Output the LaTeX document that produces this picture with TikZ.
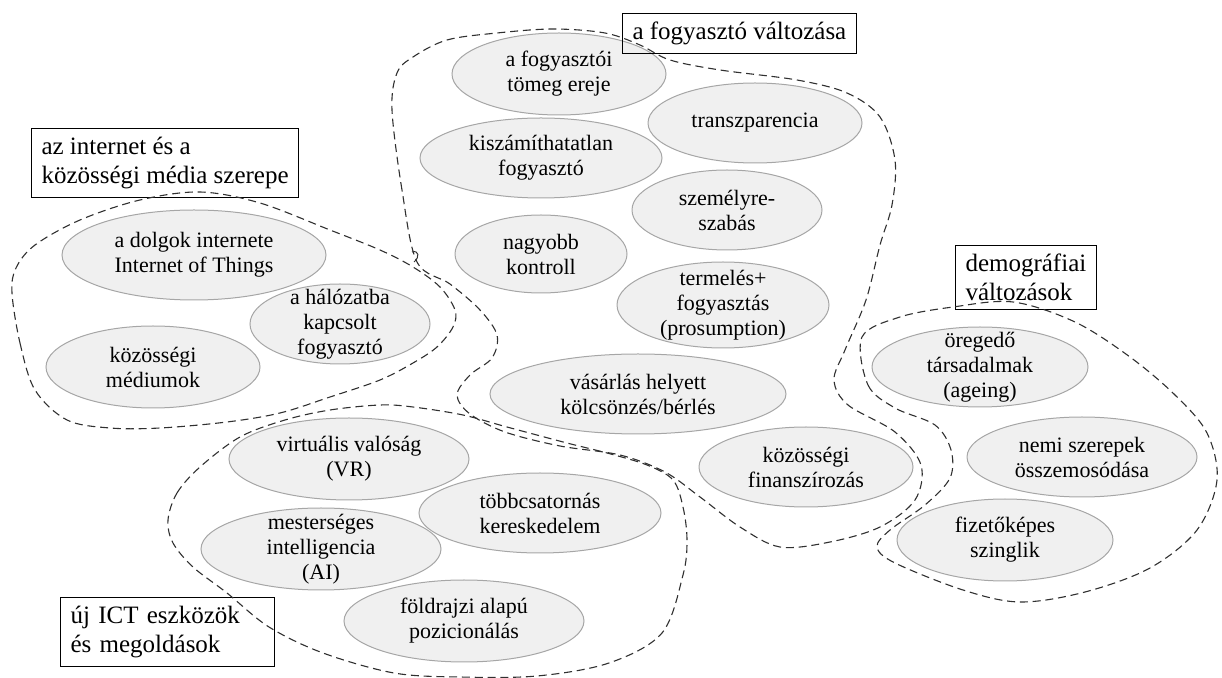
\documentclass[tikz,border=0pt]{standalone}
\usepackage{fontspec}
\setmainfont{Liberation Serif}
\definecolor{bubblefill}{HTML}{F0F0F0}
\definecolor{bubbleline}{HTML}{A6A6A6}
\definecolor{blobline}{HTML}{303030}
\begin{document}
\begin{tikzpicture}[x=0.5pt,y=-0.5pt,
  bubbletext/.style={align=center,font=\fontsize{11}{12.5}\selectfont,inner sep=0pt},
  titlebox/.style={draw=black,line width=0.5pt,align=left,inner xsep=5pt,inner ysep=4.3pt,
    font=\fontsize{12.5}{14.4}\selectfont},
  blob/.style={draw=blobline,line width=0.55pt,dash pattern=on 4pt off 2.4pt},
]
\useasboundingbox (0,0) rectangle (1222,678);
\newcommand\bubble[6]{%
  \path[fill=bubblefill,draw=bubbleline,line width=0.5pt]
    (#2,#3) ellipse [x radius={#4*0.5pt},y radius={#5*0.5pt}];
  \node[bubbletext] (#1) at (#2,#3) {#6};}

% group: a fogyasztó változása
\bubble{tomeg}{559}{74}{107}{41}{a fogyasztói\\tömeg ereje}
\bubble{transz}{755}{123}{107}{40}{transzparencia}
\bubble{kiszam}{541}{158}{121}{40}{kiszámíthatatlan\\fogyasztó}
\bubble{szemely}{727}{210}{95}{40}{személyre-\\szabás}
\bubble{kontroll}{541}{254}{86}{39}{nagyobb\\kontroll}
\bubble{prosum}{723}{305}{106}{43}{termelés+\\fogyasztás\\(prosumption)}
\bubble{berles}{638}{394}{148}{40}{vásárlás helyett\\kölcsönzés/bérlés}
\bubble{kozfin}{806}{467}{107}{40}{közösségi\\finanszírozás}

% group: internet és közösségi média
\bubble{iot}{194}{255}{132}{45}{a dolgok internete\\Internet of Things}
\bubble{halozat}{340}{324}{90}{40}{a hálózatba\\kapcsolt\\fogyasztó}
\bubble{mediumok}{153}{367}{107}{41}{közösségi\\médiumok}

% group: új ICT eszközök
\bubble{vr}{349}{459}{120}{41}{virtuális valóság\\(VR)}
\bubble{omni}{540}{513}{121}{40}{többcsatornás\\kereskedelem}
\bubble{ai}{321}{549}{120}{41}{mesterséges\\intelligencia\\(AI)}
\bubble{geo}{464}{621}{120}{41}{földrajzi alapú\\pozicionálás}

% group: demográfiai változások
\bubble{ageing}{980}{367}{108}{40}{öregedő\\társadalmak\\(ageing)}
\bubble{nemi}{1082}{457}{115}{40}{nemi szerepek\\összemosódása}
\bubble{szingli}{1005}{540}{108}{41}{fizetőképes\\szinglik}

% group titles
\node[titlebox,anchor=north west] (tfogy) at (622,13) {a fogyasztó változása};
\node[titlebox,anchor=south west] (tnet) at (31,198)
  {az internet és a\\közösségi média szerepe};
\node[titlebox,anchor=south west] (tdemo) at (955,310)
  {demográfiai\\változások};
\node[titlebox,anchor=south west,text width=97pt] (tict) at (60,667)
  {új ICT eszközök\\és megoldások};

% dashed group outlines
\draw[blob] plot[smooth cycle,tension=0.55] coordinates {
  (417,262) (402,190) (392,110) (397,73) (413,57) (447,40) (497,33) (553,29)
  (605,33) (640,45) (670,60) (720,70) (797,80) (847,93) (880,117) (895,160)
  (892,205) (880,245) (866,300) (845,350) (834,380) (848,405) (895,432)
  (921,465) (915,500) (880,527) (830,542) (780,547) (740,527) (700,497)
  (665,472) (620,455) (560,446) (505,432) (470,414) (457,395) (470,375)
  (492,358) (497,335) (480,310) (450,284)};
\draw[blobline,line width=0.5pt] (412,252) .. controls (419,250) and (420,257) .. (414,262);

\draw[blob] plot[smooth cycle,tension=0.55] coordinates {
  (12,293) (20,343) (35,390) (67,420) (110,428) (160,428) (227,422) (280,413)
  (330,397) (380,380) (413,363) (437,347) (453,327) (455,310) (440,287)
  (413,267) (380,250) (330,230) (260,203) (200,192) (140,200) (80,220)
  (35,245) (16,268)};

\draw[blob] plot[smooth cycle,tension=0.55] coordinates {
  (168,520) (177,493) (200,467) (240,437) (285,420) (330,410) (380,405)
  (413,407) (463,415) (507,427) (567,443) (607,453) (647,465) (673,480)
  (683,507) (687,540) (683,575) (662,633) (609,663) (537,676) (460,677)
  (394,673) (323,653) (269,627) (227,593) (193,567) (173,543)};

\draw[blob] plot[smooth cycle,tension=0.55] coordinates {
  (862,337) (868,385) (895,408) (935,425) (951,450) (950,478) (925,505)
  (890,530) (877,547) (895,563) (963,590) (1020,602) (1085,592) (1150,568)
  (1197,530) (1217,480) (1207,433) (1175,395) (1130,357) (1075,322)
  (1013,302) (953,307) (900,317)};
\end{tikzpicture}
\end{document}
